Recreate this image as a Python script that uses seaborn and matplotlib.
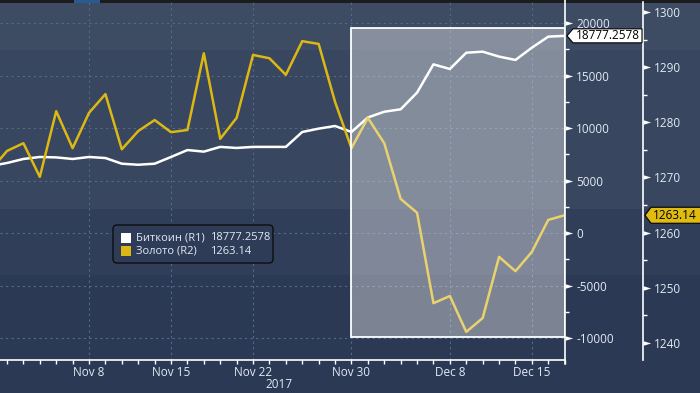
import numpy as np
import pandas as pd
import matplotlib
matplotlib.use("Agg")
import matplotlib.pyplot as plt
import seaborn as sns
from matplotlib.patches import Rectangle, Polygon, FancyBboxPatch
from matplotlib.transforms import IdentityTransform
from matplotlib.path import Path

# ---------------- data ----------------
dates = pd.bdate_range("2017-10-31", "2017-12-19")
bitcoin = [6380, 6667, 7050, 7240, 7200, 7050, 7240, 7140, 6600, 6500, 6600, 7240,
           7900, 7750, 8200, 8100, 8200, 8200, 8200, 9620, 9940, 10190, 9620, 11000,
           11550, 11780, 13370, 16060, 15620, 17170, 17270, 16800, 16480, 17650,
           18700, 18777.2578]
gold = [1271.3, 1274.8, 1276.2, 1270.1, 1282.0, 1275.3, 1281.7, 1285.1, 1275.1,
        1278.4, 1280.4, 1278.2, 1278.6, 1292.5, 1277.0, 1280.8, 1292.2, 1291.6,
        1288.6, 1294.7, 1294.2, 1283.7, 1275.3, 1280.8, 1276.2, 1266.1, 1263.6,
        1247.2, 1248.5, 1242.0, 1244.5, 1255.6, 1253.0, 1256.5, 1262.3, 1263.14]
tick_dates = ["2017-11-08", "2017-11-15", "2017-11-22", "2017-11-30", "2017-12-08", "2017-12-15"]
tick_labels = ["Nov 8", "Nov 15", "Nov 22", "Nov 30", "Dec 8", "Dec 15"]
r1_ticks = [-10000, -5000, 0, 5000, 10000, 15000, 20000]
r2_ticks = [1240, 1250, 1260, 1270, 1280, 1290, 1300]
btc_label, gold_label = "Биткоин (R1)", "Золото (R2)"
btc_last, gold_last = "18777.2578", "1263.14"
hl_start, hl_end = "2017-11-30", "2017-12-19"
hl_low, hl_high = -9900, 19520

# ---------------- style ----------------
sns.set_theme(style="white")
plt.rcParams["font.family"] = ["Open Sans", "DejaVu Sans"]
TXT = "#e2eaf3"
GOLD = "#dcb814"
W, H = 700, 393

fig = plt.figure(figsize=(7, 3.93), dpi=100)
fig.patch.set_facecolor("#2c3954")

def frect(x0, y0, x1, y1, color):
    fig.add_artist(Rectangle((x0 / W, 1 - y1 / H), (x1 - x0) / W, (y1 - y0) / H,
                             transform=fig.transFigure, color=color, zorder=-10, lw=0))

frect(0, 0, W, 2.5, "#1c1c1c")
frect(0, 2.5, W, 50, "#3e4c63")
frect(0, 50, W, 209, "#38465f")
frect(0, 209, W, 275, "#313e59")
frect(0, 275, W, H, "#2c3954")
frect(74, 0, 100, 2.5, "#2b5a92")

ax1 = fig.add_axes([0, 33 / H, 565 / W, 358 / H])
ax1.set_facecolor("none")
ax2 = ax1.twinx()
ax2.set_facecolor("none")

idx = np.arange(len(dates)) - 1
df = pd.DataFrame({"idx": idx, "btc": bitcoin, "gold": gold})

sns.lineplot(data=df, x="idx", y="btc", ax=ax1, color="white", lw=1.8, legend=False)
sns.lineplot(data=df, x="idx", y="gold", ax=ax2, color=GOLD, lw=1.8, legend=False)

pos = {d: i for d, i in zip(dates.strftime("%Y-%m-%d"), idx)}

ax1.set_xlim(-0.427, 34.02)
ax1.set_ylim(-12095, 22000)
ax2.set_ylim(1236.9, 1301.8)
for a in (ax1, ax2):
    a.set_xlabel("")
    a.set_ylabel("")

# x axis
ax1.set_xticks([pos[d] for d in tick_dates])
ax1.set_xticklabels(tick_labels)
ax1.set_xticks(idx[idx >= 0], minor=True)
ax1.tick_params(axis="x", which="both", direction="out", length=3, width=1,
                color="white", colors=TXT, labelsize=8.5, pad=1, bottom=True)
ax1.tick_params(axis="x", which="major", labelcolor=TXT)

# y axes
r2_pos = 643 / 565
ax1.yaxis.tick_right()
ax1.set_yticks(r1_ticks)
ax1.set_yticklabels([f"{t}" for t in r1_ticks])
ax1.set_yticks(np.arange(-7500, 20001, 5000), minor=True)
ax1.tick_params(axis="y", which="major", length=0, pad=8, labelsize=8.5, labelcolor=TXT,
                left=False, right=True, labelleft=False, labelright=True)
ax1.tick_params(axis="y", which="minor", length=3, width=1, color="white", direction="out",
                left=False, right=True)

ax2.set_yticks(r2_ticks)
ax2.set_yticks(np.arange(1245, 1300, 10), minor=True)
ax2.tick_params(axis="y", which="major", length=0, pad=8, labelsize=8.5, labelcolor=TXT)
ax2.tick_params(axis="y", which="minor", length=3, width=1, color="white", direction="out")

for s in ("left", "top"):
    ax1.spines[s].set_visible(False)
    ax2.spines[s].set_visible(False)
ax2.spines["bottom"].set_visible(False)
ax1.spines["bottom"].set_color("white")
ax1.spines["bottom"].set_linewidth(1.2)
ax1.spines["right"].set_visible(False)
ax2.spines["right"].set_color("white")
ax2.spines["right"].set_linewidth(1.2)
ax2.spines["right"].set_position(("axes", r2_pos))
# R1 spine line (drawn as axes-coords line)
ax1.plot([1, 1], [-0.01, 1.01], color="white", lw=1.2, transform=ax1.transAxes,
         clip_on=False, zorder=5)

# triangle tick markers
tri = Path([(0, -0.3), (1, 0), (0, 0.3), (0, -0.3)],
           [Path.MOVETO, Path.LINETO, Path.LINETO, Path.CLOSEPOLY])
ax1.plot([1] * len(r1_ticks), r1_ticks, ls="", marker=tri, markersize=11, color="white",
         markeredgewidth=0, transform=ax1.get_yaxis_transform(), clip_on=False)
ax2.plot([r2_pos] * len(r2_ticks), r2_ticks, ls="", marker=tri, markersize=11, color="white",
         markeredgewidth=0, transform=ax2.get_yaxis_transform(), clip_on=False)

# grid
ax1.grid(True, which="major", color="#4f6d8a", lw=0.8, ls=(0, (2, 3)))
ax2.grid(False)

# highlight rectangle (above lines)
rx0, rx1 = pos[hl_start], pos[hl_end]
ax2.add_patch(Rectangle((rx0, hl_low), rx1 - rx0, hl_high - hl_low, transform=ax1.transData,
                        facecolor=(1, 1, 1, 0.38), edgecolor="white", lw=1.3, zorder=10))
ax2.set_ylim(1236.9, 1301.8)

# year label
fig.text(279 / W, 1 - 385 / H, "2017", color=TXT, fontsize=8.5, ha="center", va="center")

# last-value tags
fig.canvas.draw()
yb = ax1.transData.transform((0, bitcoin[-1]))[1]
yg = ax2.transData.transform((0, gold[-1]))[1]
hh = 7
fig.add_artist(Polygon([(567, yb), (573, yb + hh), (642, yb + hh), (642, yb - hh), (573, yb - hh)],
                       closed=True, transform=IdentityTransform(), facecolor="white",
                       edgecolor="black", lw=0.8, zorder=20))
fig.text(608 / W, yb / H, btc_last, color="black", fontsize=8.5, ha="center", va="center", zorder=21)
hg = 8
fig.add_artist(Polygon([(645, yg), (651, yg + hg), (702, yg + hg), (702, yg - hg), (651, yg - hg)],
                       closed=True, transform=IdentityTransform(), facecolor="#e0bc12",
                       edgecolor="black", lw=0.8, zorder=20))
fig.text(675 / W, yg / H, gold_last, color="black", fontsize=8.5, ha="center", va="center", zorder=21)

# legend
fig.add_artist(FancyBboxPatch((113, H - 263), 160, 38, boxstyle="round,pad=0,rounding_size=4",
                              transform=IdentityTransform(), facecolor="#2f3c57",
                              edgecolor="#0d0d0d", lw=1, zorder=20))
for row, (lab, val, col) in enumerate([(btc_label, btc_last, "white"), (gold_label, gold_last, GOLD)]):
    yc = 238 + 13 * row
    fig.add_artist(Rectangle((121, H - yc - 5), 10, 10, transform=IdentityTransform(),
                             facecolor=col, lw=0, zorder=21))
    fig.text(136 / W, 1 - yc / H, lab, color=TXT, fontsize=8, ha="left", va="center", zorder=22)
    fig.text(210 / W, 1 - yc / H, val, color=TXT, fontsize=8, ha="left", va="center", zorder=22)

fig.savefig("out.png", dpi=100, facecolor=fig.get_facecolor())
